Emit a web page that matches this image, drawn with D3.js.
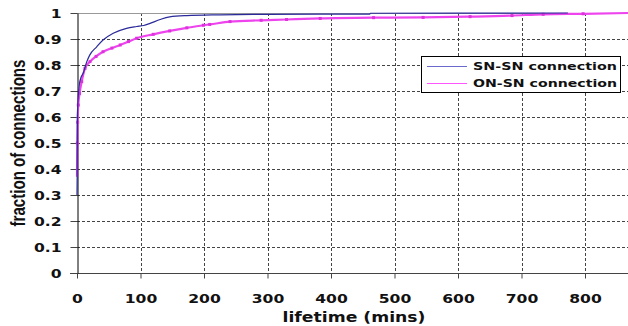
<!DOCTYPE html>
<html>
<head>
<meta charset="utf-8">
<script src="https://cdn.jsdelivr.net/npm/d3@7"></script>
<style>
  body { margin: 0; background: #fff; }
  svg { display: block; }
</style>
</head>
<body>
<div id="chart"></div>
<script>
// SN-SN connection lifetimes (mins) and cumulative fraction
const snTimes = [0, 0.3, 0.6, 1, 2, 4, 6, 10, 15, 20, 31, 41, 57, 78, 94, 105, 115, 131, 146, 173, 225, 300, 461, 462, 773];
const snFractions = [0.30, 0.38, 0.58, 0.63, 0.68, 0.73, 0.75, 0.77, 0.81, 0.838, 0.87, 0.896, 0.922, 0.941, 0.948, 0.952, 0.96, 0.975, 0.985, 0.99, 0.993, 0.995, 0.996, 0.999, 1.0];

// ON-SN connection
const onTimes = [0, 0.5, 1, 2, 4, 7.4, 12.6, 20.5, 30, 41, 55, 68, 81, 94, 120, 146, 173, 199, 209, 241, 290, 330, 383, 467, 545, 619, 685, 734, 797, 868];
const onFractions = [0.37, 0.5, 0.58, 0.646, 0.69, 0.736, 0.787, 0.813, 0.833, 0.851, 0.865, 0.877, 0.89, 0.903, 0.918, 0.931, 0.943, 0.953, 0.956, 0.967, 0.972, 0.975, 0.979, 0.982, 0.983, 0.986, 0.99, 0.995, 0.997, 1.0];

const xTicks = [0, 100, 200, 300, 400, 500, 600, 700, 800];
const yTicks = [0, 0.1, 0.2, 0.3, 0.4, 0.5, 0.6, 0.7, 0.8, 0.9, 1];
const seriesNames = ["SN-SN connection", "ON-SN connection"];

const width = 628, height = 326;
const plotLeft = 77, plotTop = 13, plotBottom = 273;

const x = d3.scaleLinear().domain([0, 867.7]).range([plotLeft, width]);
const y = d3.scaleLinear().domain([0, 1]).range([plotBottom, plotTop]);

const svg = d3.select("#chart").append("svg")
    .attr("width", width)
    .attr("height", height);

// grid
svg.append("g")
    .selectAll("line")
    .data(yTicks.filter(d => d > 0 && d < 1))
    .join("line")
    .attr("x1", plotLeft).attr("x2", width)
    .attr("y1", d => Math.round(y(d)) + 0.5).attr("y2", d => Math.round(y(d)) + 0.5)
    .attr("stroke", "#444").attr("stroke-dasharray", "3,2");

svg.append("g")
    .selectAll("line")
    .data(xTicks.filter(d => d > 0))
    .join("line")
    .attr("x1", d => Math.round(x(d)) + 0.5).attr("x2", d => Math.round(x(d)) + 0.5)
    .attr("y1", plotTop).attr("y2", plotBottom)
    .attr("stroke", "#444").attr("stroke-dasharray", "3,2");

// top border
svg.append("line")
    .attr("x1", plotLeft).attr("x2", width)
    .attr("y1", plotTop + 0.5).attr("y2", plotTop + 0.5)
    .attr("stroke", "#999");

// x axis
const xAxis = svg.append("g")
    .attr("transform", `translate(0,${plotBottom + 0.5})`)
    .call(d3.axisBottom(x).tickValues(xTicks).tickSize(5).tickSizeOuter(0).tickFormat(d3.format("d")));
xAxis.select(".domain").attr("d", `M70,0H${width}`).attr("stroke", "#444");
xAxis.selectAll(".tick line").attr("stroke", "#444");
xAxis.selectAll(".tick text")
    .attr("y", 0).attr("dy", null)
    .attr("transform", "translate(0,29) scale(1.3,1)")
    .attr("font-family", "DejaVu Sans").attr("font-size", 12).attr("font-weight", "bold")
    .attr("fill", "#111");

// y axis
const yAxis = svg.append("g")
    .attr("transform", `translate(${plotLeft + 0.5},0)`)
    .call(d3.axisLeft(y).tickValues(yTicks).tickSize(7).tickSizeOuter(0).tickFormat(d => d === 0 || d === 1 ? d3.format("d")(d) : d3.format(".1f")(d)));
yAxis.select(".domain").attr("stroke", "#000");
yAxis.selectAll(".tick line").attr("stroke", "#444");
yAxis.selectAll(".tick text")
    .attr("x", 0).attr("dy", "0.36em")
    .attr("transform", "translate(-16,0) scale(1.3,1)")
    .attr("font-family", "DejaVu Sans").attr("font-size", 12).attr("font-weight", "bold")
    .attr("fill", "#111");

// lines
const snData = snTimes.map((t, i) => [t, snFractions[i]]);
const onData = onTimes.map((t, i) => [t, onFractions[i]]);
const line = d3.line().x(d => x(d[0])).y(d => y(d[1])).curve(d3.curveMonotoneX);

svg.append("path")
    .datum(onData)
    .attr("fill", "none")
    .attr("stroke", "#ee44ee")
    .attr("stroke-width", 2.2)
    .attr("d", line);

svg.append("g")
    .selectAll("rect")
    .data(onData.filter(d => d[0] > 0 && d[0] < 800))
    .join("rect")
    .attr("x", d => x(d[0]) - 1.5).attr("y", d => y(d[1]) - 1.5)
    .attr("width", 3).attr("height", 3)
    .attr("fill", "#dd33dd");

svg.append("path")
    .datum(snData)
    .attr("fill", "none")
    .attr("stroke", "#2a2a9a")
    .attr("stroke-width", 1.2)
    .attr("d", line);

// axis titles
svg.append("text")
    .attr("transform", "translate(25,143) rotate(-90)")
    .attr("text-anchor", "middle")
    .attr("font-family", "Liberation Sans Narrow, Liberation Sans, Arial")
    .attr("font-size", 20).attr("font-weight", "bold")
    .attr("textLength", 167).attr("lengthAdjust", "spacingAndGlyphs")
    .attr("fill", "#111")
    .text("fraction of connections");

svg.append("text")
    .attr("x", 354).attr("y", 322)
    .attr("text-anchor", "middle")
    .attr("font-family", "DejaVu Sans")
    .attr("font-size", 14).attr("font-weight", "bold")
    .attr("textLength", 143).attr("lengthAdjust", "spacingAndGlyphs")
    .attr("fill", "#111")
    .text("lifetime (mins)");

// legend
const legend = svg.append("g");
legend.append("rect")
    .attr("x", 421.5).attr("y", 56.5)
    .attr("width", 199).attr("height", 36)
    .attr("fill", "#fff").attr("stroke", "#000");

const legendColors = ["#6a6acc", "#ff55ff"];
const legendY = [66, 83];
seriesNames.forEach((name, i) => {
    legend.append("line")
        .attr("x1", 427).attr("x2", 467)
        .attr("y1", legendY[i] + 0.5).attr("y2", legendY[i] + 0.5)
        .attr("stroke", legendColors[i]).attr("stroke-width", 1.2);
    legend.append("text")
        .attr("x", 473).attr("y", legendY[i] + 4)
        .attr("font-family", "DejaVu Sans")
        .attr("font-size", 11).attr("font-weight", "bold")
        .attr("textLength", 144).attr("lengthAdjust", "spacingAndGlyphs")
        .attr("fill", "#111")
        .text(name);
});
</script>
</body>
</html>
